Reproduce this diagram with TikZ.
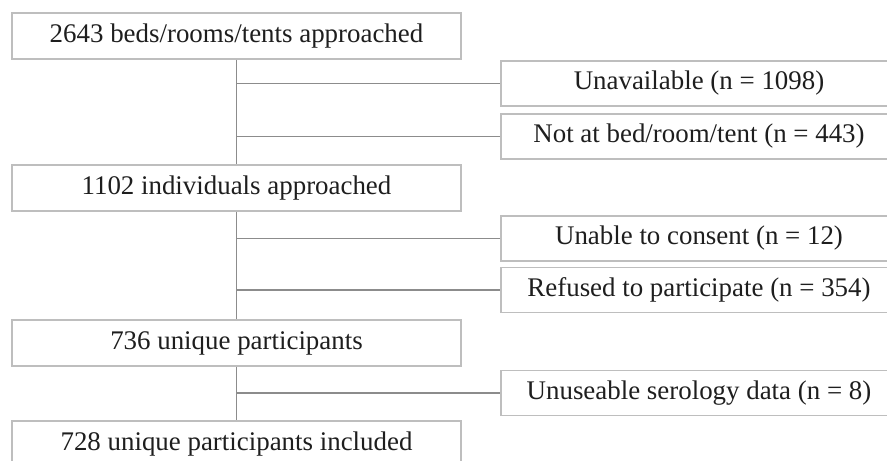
\documentclass[tikz,border=0pt]{standalone}
\usepackage{fontspec}
\setmainfont{Liberation Serif}
\definecolor{boxline}{RGB}{190,190,190}
\definecolor{conn}{RGB}{140,140,140}
\definecolor{txt}{RGB}{30,30,30}
\begin{document}
\begin{tikzpicture}[x=1bp,y=-1bp,
  leftbox/.style={draw=boxline,line width=1.6bp,minimum width=449bp,minimum height=46bp,inner sep=0pt,text=txt,font=\fontsize{27}{30}\selectfont},
  rightbox/.style={draw=boxline,line width=1.6bp,minimum width=396bp,minimum height=45bp,inner sep=0pt,text=txt,font=\fontsize{27}{30}\selectfont},
  conline/.style={draw=conn,line width=1.6bp}]
\useasboundingbox (0,0) rectangle (887,461);
\clip (0,0) rectangle (887,461);
\fill[white] (0,0) rectangle (887,461);
\node[leftbox] (b1) at (236.5,36) {2643 beds/rooms/tents approached};
\node[leftbox] (b2) at (236.5,188) {1102 individuals approached};
\node[leftbox] (b3) at (236.5,343) {736 unique participants};
\node[leftbox] (b4) at (236.5,444) {728 unique participants included};
\node[rightbox] (r1) at (699,83.5) {Unavailable (n = 1098)};
\node[rightbox] (r2) at (699,136.5) {Not at bed/room/tent (n = 443)};
\node[rightbox] (r3) at (699,238.5) {Unable to consent (n = 12)};
\node[rightbox] (r4) at (699,290) {Refused to participate (n = 354)};
\node[rightbox] (r5) at (699,393) {Unuseable serology data (n = 8)};
\draw[conline] (b1.south) -- (b2.north);
\draw[conline] (b2.south) -- (b3.north);
\draw[conline] (b3.south) -- (b4.north);
\draw[conline] (b1.south |- r1.west) -- (r1.west);
\draw[conline] (b1.south |- r2.west) -- (r2.west);
\draw[conline] (b2.south |- r3.west) -- (r3.west);
\draw[conline] (b2.south |- r4.west) -- (r4.west);
\draw[conline] (b3.south |- r5.west) -- (r5.west);
\end{tikzpicture}
\end{document}
